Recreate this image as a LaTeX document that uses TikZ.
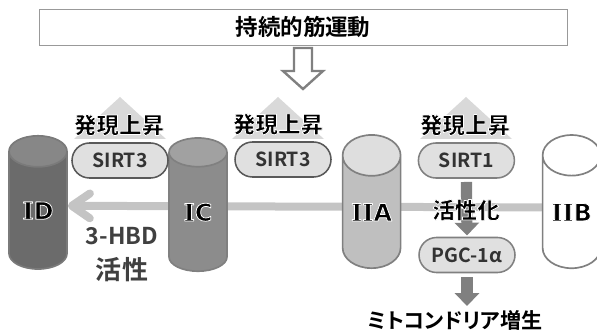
\documentclass[tikz,border=0pt]{standalone}
\usepackage{fontspec}
\setmainfont{Noto Sans CJK JP}[BoldFont={Noto Sans CJK JP Bold},RawFeature=+palt]
\newfontfamily\heavy{Noto Sans CJK JP Black}[RawFeature=+palt]
\newfontfamily\serifI{DejaVu Serif}
\newfontfamily\sansD{DejaVu Sans}
\usetikzlibrary{arrows.meta,shapes.geometric,shapes.misc,backgrounds}
\definecolor{fibreedge}{gray}{0.5}
\newcommand{\halo}[1]{\special{pdf:code 2 Tr 0.55 w 1 1 1 RG 1 j}#1\special{pdf:code 0 Tr 0 G 0 j}}
\newcommand{\fibretext}[1]{\raisebox{-8pt}{\fontsize{17}{17}\selectfont\halo{#1}}}
\newcommand{\romI}{{\serifI\bfseries I}}
\tikzset{
  fibre/.style={cylinder,shape border rotate=90,aspect=1.0,draw=#1,line width=1.2pt,
    minimum width=1.45cm,minimum height=3.33cm,inner sep=0pt,cylinder uses custom fill},
  pill/.style={rounded rectangle,draw=#1,fill=black!12,line width=1.1pt,
    minimum width=2.4cm,minimum height=0.875cm,inner sep=0pt,
    font=\fontsize{13.8}{15}\selectfont\bfseries,text=black!80},
  rise/.style={font=\fontsize{16}{16}\selectfont\heavy},
  downarrow/.style={-{Triangle[length=0.32cm,width=0.6cm]},draw=fibreedge,line width=0.28cm},
}
\begin{document}
\begin{tikzpicture}
\useasboundingbox (0,0) rectangle (14.925,8.225);
\node (exercise) at (7.575,7.55) [draw=black!40,line width=0.7pt,minimum width=13.2cm,minimum height=0.9cm,inner sep=0pt,
  font=\fontsize{16}{16}\selectfont\bfseries] {持続的筋運動};
\draw[draw=fibreedge,fill=white,line width=1.7pt] (7.35,7.025)--(7.8,7.025)--(7.8,6.45)--(8.075,6.45)--(7.575,6.0)--(7.075,6.45)--(7.35,6.45)--cycle;
\foreach \x in {3.0,6.95,11.65}
  \fill[color=black!15] (\x,5.8)--++(1.15,-1.05)--++(-2.3,0)--cycle;
\node (ID) at (0.95,2.96) [fibre=black!52,cylinder body fill=black!58,cylinder end fill=black!47] {\fibretext{\romI{\sansD\bfseries D}}};
\node (IC) at (4.95,2.92) [fibre=black!50,cylinder body fill=black!45,cylinder end fill=black!37] {\fibretext{\romI{\sansD\bfseries C}}};
\node (IIA) at (9.29,2.92) [fibre=fibreedge,cylinder body fill=black!25,cylinder end fill=black!13] {\fibretext{\romI\romI{\sansD\bfseries A}}};
\node (IIB) at (14.29,2.92) [fibre=fibreedge,cylinder body fill=white,cylinder end fill=white] {\fibretext{\romI\romI{\sansD\bfseries B}}};
\node (riseA) at (2.975,5.1) [rise] {\halo{発現上昇}};
\node (riseB) at (6.95,5.12) [rise] {\halo{発現上昇}};
\node (riseC) at (11.625,5.1) [rise] {\halo{発現上昇}};
\node (sirtA) at (3.0,4.2125) [pill=black!65] {SIRT3};
\node (sirtB) at (7.075,4.2375) [pill=black!65] {SIRT3};
\node (sirtC) at (11.66,4.2125) [pill=fibreedge] {SIRT1};
\node (pgc) at (11.675,1.85) [pill=fibreedge] {PGC-1α};
\node (hbd) at (3.05,1.87) [font=\fontsize{16.5}{24}\selectfont\bfseries,text=black!75,align=center,inner sep=0pt] {3-HBD\\[1pt]{\fontsize{18.5}{24}\selectfont 活性}};
\node (mito) at (11.375,0.22) [font=\fontsize{15}{15}\selectfont\bfseries,inner sep=0pt] {ミトコンドリア増生};
\begin{scope}[on background layer]
\draw[{Straight Barb[round,length=0.45cm,width=0.62cm]}-,draw=black!23,line width=0.2cm] ([yshift=0.12cm]ID.east)--([yshift=0.12cm]IIB.west);
\end{scope}
\draw[downarrow,shorten <=0.08cm,shorten >=0.03cm] (sirtC.south)--(pgc.north);
\draw[downarrow,shorten <=0.1cm,shorten >=0.1cm] (pgc.south)--(pgc.south|-mito.north);
\node (activate) at (11.65,2.975) [rise] {\halo{活性化}};
\end{tikzpicture}
\end{document}
